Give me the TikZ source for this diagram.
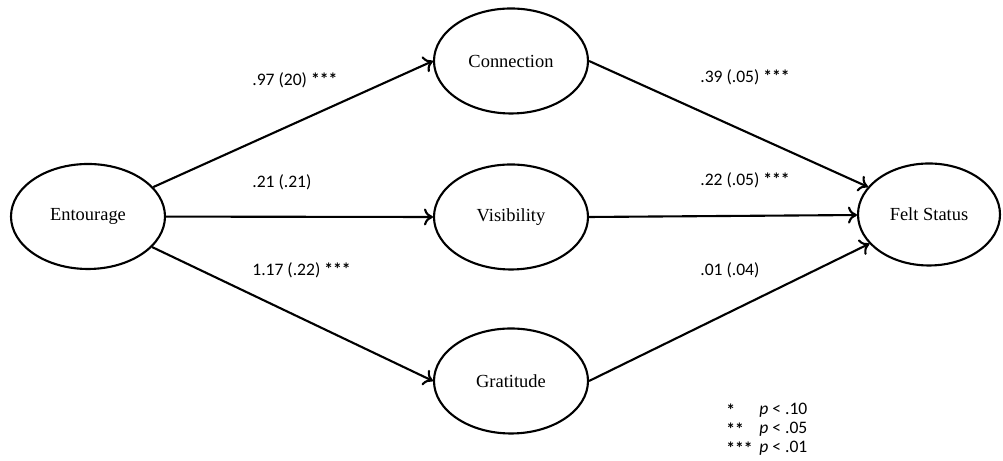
\documentclass[tikz,border=0pt]{standalone}
\usepackage{fontspec}
\usepackage{tikz}
\usetikzlibrary{arrows.meta, shapes.geometric}
\newfontfamily\nodefont{Liberation Serif}
\newfontfamily\coeffont{Carlito}

\begin{document}
\begin{tikzpicture}[
    latent/.style={ellipse, draw, line width=1.2pt, inner sep=0pt,
        minimum width=3.08cm, minimum height=2.1cm, font=\nodefont\fontsize{10.5}{12}\selectfont},
    effect/.style={-{To[length=1.8mm,width=3.4mm]}, line width=1.2pt},
    coef/.style={anchor=west, inner sep=0pt, font=\coeffont\fontsize{10}{12}\selectfont}
]
            \useasboundingbox (0,0) rectangle (20.06,9.22);
            \def\midx{10.22}

            \node[latent] (entourage) at (1.76,4.89) {Entourage};
            \foreach \name/\txt/\y in {connection/Connection/8.00, visibility/Visibility/4.88, gratitude/Gratitude/1.60} {
                \node[latent] (\name) at (\midx,\y) {\txt};
            }
            \node[latent, minimum width=2.84cm, minimum height=2.04cm] (felt) at (18.58,4.93) {Felt Status};

            \foreach \name in {connection, visibility, gratitude} {
                \draw[effect] (entourage) -- (\name.west);
                \draw[effect] (\name.east) -- (felt);
            }

            %labels
            \node[coef] (a1) at (5.04,7.62) {.97 (20) \textbf{***}};
            \node[coef] (a2) at (5.04,5.58) {.21 (.21)};
            \node[coef] (a3) at (5.04,3.82) {1.17 (.22) \textbf{***}};
            \node[coef] (b1) at (14.0,7.68) {.39 (.05) \textbf{***}};
            \node[coef] (b2) at (14.0,5.62) {.22 (.05) \textbf{***}};
            \node[coef] (b3) at (14.0,3.82) {.01 (.04)};

            %legend
            \node[coef] (s1) at (14.52,1.02) {\textbf{*}};
            \node[coef] (s2) at (14.52,0.64) {\textbf{**}};
            \node[coef] (s3) at (14.52,0.26) {\textbf{***}};
            \node[coef] (p1) at (15.18,1.02) {\textit{p} < .10};
            \node[coef] (p2) at (15.18,0.64) {\textit{p} < .05};
            \node[coef] (p3) at (15.18,0.26) {\textit{p} < .01};

\end{tikzpicture}
\end{document}
